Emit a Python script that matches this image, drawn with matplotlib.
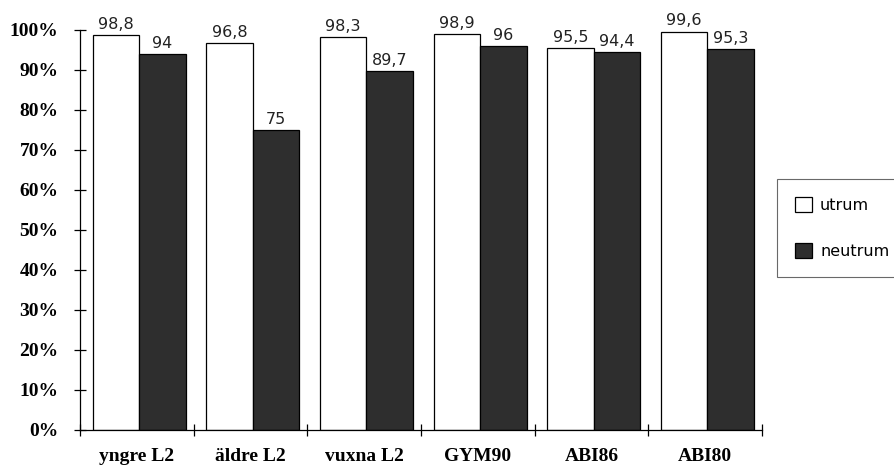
import matplotlib
matplotlib.use("Agg")
import matplotlib.pyplot as plt
import numpy as np

groups = ["yngre L2", "äldre L2", "vuxna L2", "GYM90", "ABI86", "ABI80"]
utrum = [98.8, 96.8, 98.3, 98.9, 95.5, 99.6]
neutrum = [94, 75, 89.7, 96, 94.4, 95.3]
utrum_labels = ["98,8", "96,8", "98,3", "98,9", "95,5", "99,6"]
neutrum_labels = ["94", "75", "89,7", "96", "94,4", "95,3"]
yticks = [0, 10, 20, 30, 40, 50, 60, 70, 80, 90, 100]

W, H = 895, 471
fig = plt.figure(figsize=(W / 100, H / 100), dpi=100)
ax = fig.add_axes([80 / W, (H - 430) / H, (762 - 80) / W, 400 / H])

x = np.arange(len(groups))
bw = 0.41
shift = 0.02
dark = "#2e2e2e"
b1 = ax.bar(x - bw / 2 + shift, utrum, bw, color="white", edgecolor="black", linewidth=0.9, label="utrum")
b2 = ax.bar(x + bw / 2 + shift, neutrum, bw, color=dark, edgecolor="black", linewidth=0.9, label="neutrum")

vfont = dict(family="DejaVu Sans", fontsize=11.5, color="#222222")
for xi, v, s in zip(x, utrum, utrum_labels):
    ax.text(xi - bw / 2 + shift, v + 0.8, s, ha="center", va="bottom", **vfont)
for xi, v, s in zip(x, neutrum, neutrum_labels):
    ax.text(xi + bw / 2 + shift, v + 0.8, s, ha="center", va="bottom", **vfont)

ax.set_xlim(-0.5, len(groups) - 0.5)
ax.set_ylim(0, 100)
ax.spines["top"].set_visible(False)
ax.spines["right"].set_visible(False)
for sp in ("left", "bottom"):
    ax.spines[sp].set_linewidth(0.9)

ax.set_yticks(yticks)
ax.set_yticklabels([f"{t}%" for t in yticks], family="Liberation Serif",
                   fontweight="bold", fontsize=14)
ax.tick_params(axis="y", direction="inout", length=9, width=0.9, pad=11)

ax.set_xticks(x)
ax.set_xticklabels(groups, family="Liberation Serif", fontweight="bold", fontsize=14)
ax.tick_params(axis="x", which="major", length=0, pad=13)
ax.set_xticks(np.arange(len(groups) + 1) - 0.5, minor=True)
ax.tick_params(axis="x", which="minor", direction="inout", length=9, width=0.9)

leg = ax.legend(handles=[b1, b2], loc="upper left",
                bbox_to_anchor=(777 / W, 1 - 179 / H), bbox_transform=fig.transFigure,
                frameon=True, fancybox=False, edgecolor="#444444",
                prop=dict(family="DejaVu Sans", size=11.5), labelspacing=1.9,
                handlelength=1.1, handleheight=1.1, handletextpad=0.5,
                borderpad=1.1, borderaxespad=0)
leg.get_frame().set_linewidth(0.8)

fig.savefig("out.png", dpi=100, facecolor="white")
